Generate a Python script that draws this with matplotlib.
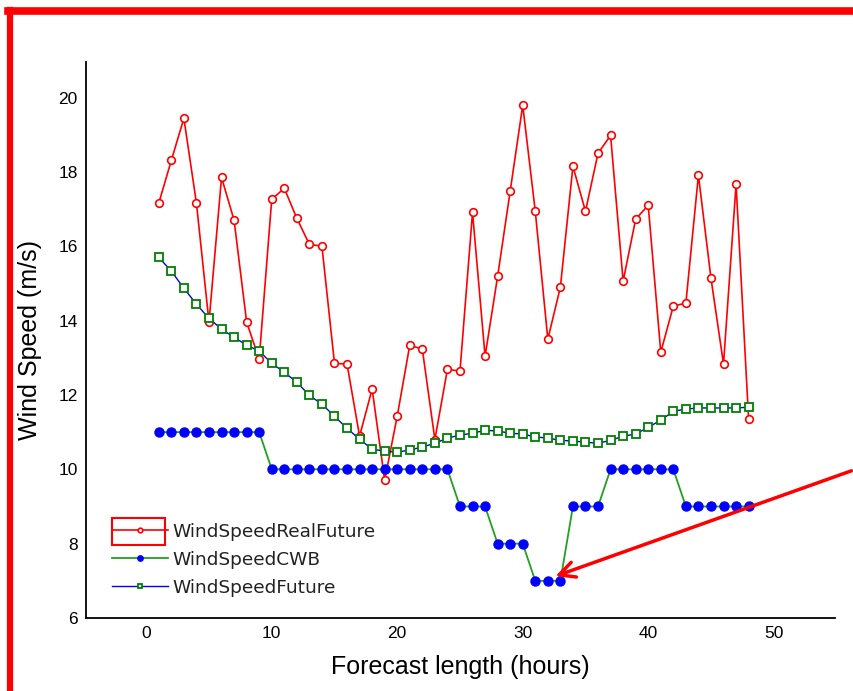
import numpy as np
import matplotlib
matplotlib.use("Agg")
import matplotlib.pyplot as plt
from matplotlib.lines import Line2D
from matplotlib.patches import Rectangle

plt.rcParams['font.family'] = ['Liberation Sans Narrow', 'Liberation Sans', 'DejaVu Sans']

hours = np.arange(1, 49)

real_future = [17.16, 18.31, 19.44, 17.16, 13.96, 17.85, 16.70, 13.96, 12.96, 17.26,
               17.56, 16.75, 16.05, 16.00, 12.85, 12.83, 10.89, 12.16, 9.71, 11.43,
               13.34, 13.23, 10.80, 12.69, 12.64, 16.91, 13.04, 15.19, 17.48, 19.79,
               16.94, 13.50, 14.90, 18.15, 16.94, 18.50, 18.98, 15.06, 16.73, 17.10,
               13.15, 14.39, 14.47, 17.91, 15.14, 12.83, 17.67, 11.35]

cwb = [11]*9 + [10]*15 + [9]*3 + [8]*3 + [7]*3 + [9]*3 + [10]*6 + [9]*6

future = [15.70, 15.33, 14.87, 14.44, 14.06, 13.77, 13.55, 13.34, 13.18, 12.85,
          12.61, 12.34, 11.99, 11.75, 11.43, 11.10, 10.81, 10.54, 10.49, 10.46,
          10.52, 10.60, 10.70, 10.84, 10.92, 10.97, 11.05, 11.03, 10.97, 10.95,
          10.87, 10.84, 10.78, 10.76, 10.73, 10.70, 10.78, 10.89, 10.95, 11.13,
          11.32, 11.56, 11.62, 11.65, 11.65, 11.65, 11.65, 11.67]

x_ticks = [0, 10, 20, 30, 40, 50]
y_ticks = [6, 8, 10, 12, 14, 16, 18, 20]

fig = plt.figure(figsize=(8.54, 6.91), dpi=100)
ax = fig.add_axes([0.1007, 0.1056, 0.8773, 0.8044])

ax.plot(hours, real_future, color='red', lw=1.2, marker='o', ms=5.5,
        mfc='white', mec='red', mew=1.2, label='WindSpeedRealFuture')
ax.plot(hours, cwb, color='#22a022', lw=1.3, marker='o', ms=6.5,
        mfc='blue', mec='blue', label='WindSpeedCWB')
ax.plot(hours, future, color='blue', lw=1.0, marker='s', ms=6,
        mfc='white', mec='green', mew=1.3, label='WindSpeedFuture')

ax.set_xlim(-4.8, 54.9)
ax.set_ylim(6, 20.95)
ax.set_xticks(x_ticks)
ax.set_yticks(y_ticks)
ax.tick_params(length=0, labelsize=12.5, pad=6)
for s in ['top', 'right']:
    ax.spines[s].set_visible(False)
ax.spines['left'].set_linewidth(1.3)
ax.spines['bottom'].set_linewidth(1.3)

ax.set_xlabel('Forecast length (hours)', fontsize=18, family=['Liberation Sans', 'DejaVu Sans'], labelpad=10)
ax.set_ylabel('Wind Speed (m/s)', fontsize=18, family=['Liberation Sans', 'DejaVu Sans'], labelpad=12)

leg = ax.legend(loc='lower left', bbox_to_anchor=(0.013, 0.008), frameon=False,
                prop={'family': ['DejaVu Sans'], 'size': 13.3},
                handlelength=3.0, handletextpad=0.25, labelspacing=0.55, markerscale=0.6)
for t in leg.get_texts():
    t.set_color('#222222')

# highlight box around first legend handle
ax.add_patch(Rectangle((0.0347, 0.131), 0.0708, 0.0486, transform=ax.transAxes,
                       fill=False, ec='red', lw=1.5, clip_on=False))

# red arrow pointing at the minimum CWB forecast
ax.annotate('', xy=(32.4, 7.1), xycoords='data', xytext=(1.0, 0.32),
            textcoords='figure fraction',
            arrowprops=dict(arrowstyle='->', color='red', lw=2.5, mutation_scale=28))

# screenshot frame
fig.add_artist(Line2D([0.012, 0.012], [0, 0.985], color='red', lw=4.5))
fig.add_artist(Line2D([0.009, 1.0], [0.984, 0.984], color='red', lw=5.5))

fig.savefig('out.png', dpi=100)
